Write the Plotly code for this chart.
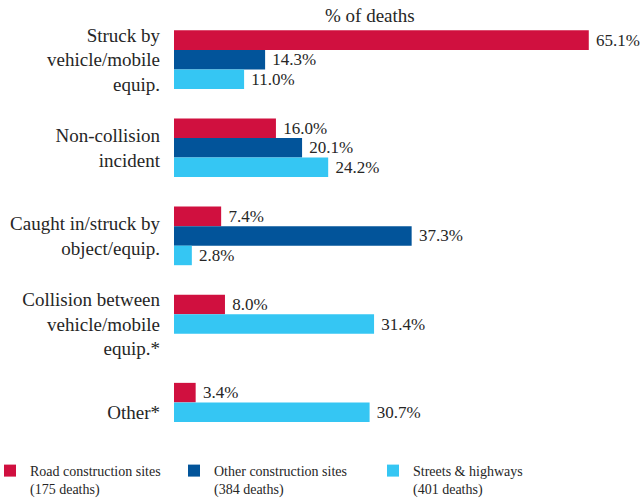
import plotly.graph_objects as go

categories = [
    "Struck by<br>vehicle/mobile<br>equip.",
    "Non-collision<br>incident",
    "Caught in/struck by<br>object/equip.",
    "Collision between<br>vehicle/mobile<br>equip.*",
    "Other*",
]
road = [65.1, 16.0, 7.4, 8.0, 3.4]
other = [14.3, 20.1, 37.3, None, None]
streets = [11.0, 24.2, 2.8, 31.4, 30.7]

series_names = [
    "Road construction sites<br>(175 deaths)",
    "Other construction sites<br>(384 deaths)",
    "Streets & highways<br>(401 deaths)",
]
colors = ["#D0103F", "#02549A", "#35C6F3"]

FONT = "Liberation Serif, Times New Roman, Times, serif"
TXT = "#262626"
W = 0.2216  # bar thickness in category units

# stacking slots inside each group; skip the empty slot when a value is missing
off_road = [-1.5 * W] * len(categories)
off_other = [-0.5 * W] * len(categories)
off_streets = [(0.5 * W if o is not None else -0.5 * W) for o in other]

fig = go.Figure()
for vals, offs, name, col, lg in [
    (road, off_road, series_names[0], colors[0], "legend"),
    (other, off_other, series_names[1], colors[1], "legend2"),
    (streets, off_streets, series_names[2], colors[2], "legend3"),
]:
    fig.add_trace(go.Bar(
        y=categories, x=vals, orientation="h", name=name,
        width=W, offset=offs,
        marker=dict(color=col, line=dict(width=0)),
        texttemplate=" %{x:.1f}%", textposition="outside",
        textfont=dict(family=FONT, size=17, color=TXT),
        constraintext="none", cliponaxis=False,
        legend=lg, showlegend=True, hoverinfo="skip",
    ))

leg_common = dict(
    orientation="v", yanchor="top", xanchor="left", y=1 - 455 / 501,
    xref="container", yref="container", indentation=-10,
    font=dict(family=FONT, size=14, color=TXT), valign="top",
    bgcolor="rgba(0,0,0,0)", borderwidth=0,
)
fig.update_layout(
    width=640, height=501,
    showlegend=True,
    margin=dict(l=174, r=20, t=20, b=58, autoexpand=False),
    barmode="overlay",
    plot_bgcolor="white", paper_bgcolor="white",
    font=dict(family=FONT, color=TXT),
    xaxis=dict(range=[0, 70], visible=False, fixedrange=True),
    yaxis=dict(
        range=[4.35, -0.45], type="category", showgrid=False, zeroline=False,
        showline=False, ticks="", ticklabelstandoff=13, automargin=False,
        tickfont=dict(family=FONT, size=19, color=TXT),
    ),
    legend=dict(x=0 / 640, **leg_common),
    legend2=dict(x=184 / 640, **leg_common),
    legend3=dict(x=383 / 640, **leg_common),
    annotations=[dict(
        text="% of deaths", xref="paper", yref="paper", x=0.4395, y=1.0095,
        xanchor="center", yanchor="middle", showarrow=False,
        font=dict(family=FONT, size=19, color=TXT),
    )],
)

fig.write_html(
    "out.html",
    config={"displayModeBar": False},
    post_script="document.body.style.margin='0';",
)
